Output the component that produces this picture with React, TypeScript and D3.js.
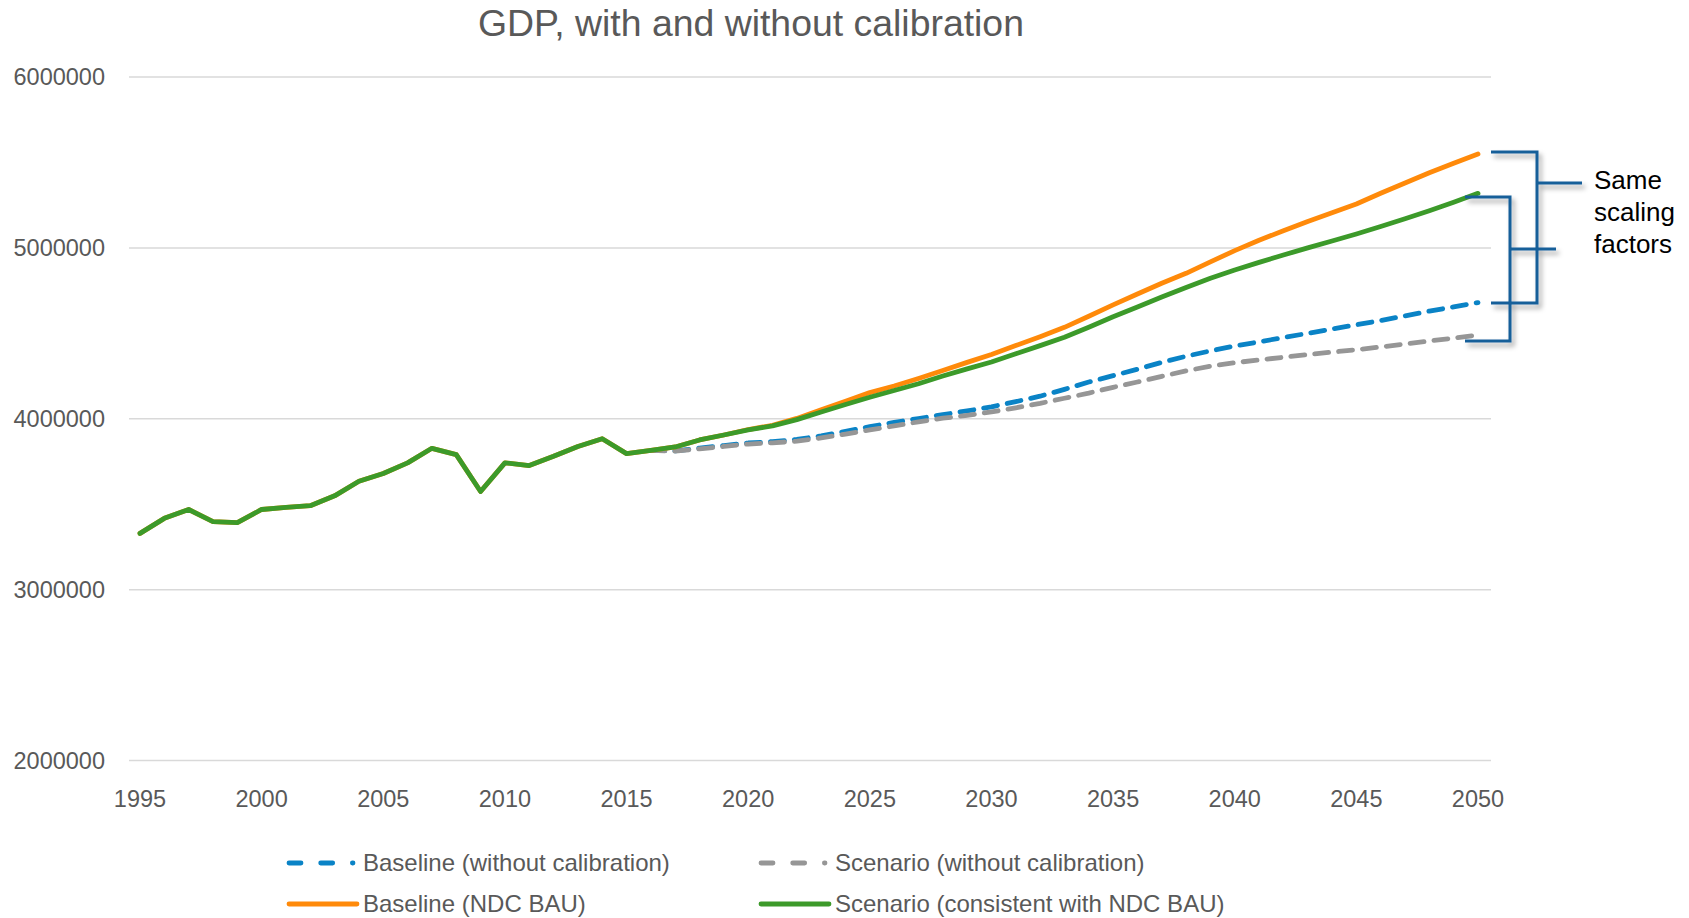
import React from "react";
import * as d3 from "d3";

const W = 1689;
const H = 918;

const title = "GDP, with and without calibration";
const yTicks = [2000000, 3000000, 4000000, 5000000, 6000000];
const xTickYears = [1995, 2000, 2005, 2010, 2015, 2020, 2025, 2030, 2035, 2040, 2045, 2050];

// Shared history 1995-2017
const historyYears = [1995, 1996, 1997, 1998, 1999, 2000, 2001, 2002, 2003, 2004, 2005, 2006, 2007, 2008, 2009, 2010, 2011, 2012, 2013, 2014, 2015, 2016, 2017];
const history = [3329000, 3417000, 3469000, 3398000, 3392000, 3469000, 3481000, 3491000, 3549000, 3634000, 3680000, 3742000, 3827000, 3790000, 3574000, 3742000, 3726000, 3780000, 3838000, 3883000, 3796000, 3815000, 3835000];

// Projection years
const projYears = [2018, 2019, 2020, 2021, 2022, 2023, 2024, 2025, 2026, 2027, 2028, 2029, 2030, 2031, 2032, 2033, 2034, 2035, 2036, 2037, 2038, 2039, 2040, 2041, 2042, 2043, 2044, 2045, 2046, 2047, 2048, 2049, 2050];
const baselineNdc = [3876000, 3905000, 3937000, 3962000, 4002000, 4052000, 4102000, 4153000, 4192000, 4236000, 4282000, 4330000, 4376000, 4428000, 4480000, 4535000, 4600000, 4666000, 4730000, 4793000, 4851000, 4918000, 4984000, 5045000, 5100000, 5155000, 5206000, 5257000, 5320000, 5380000, 5440000, 5495000, 5549000];
const scenarioNdc = [3876000, 3905000, 3935000, 3958000, 3995000, 4040000, 4083000, 4126000, 4165000, 4205000, 4250000, 4292000, 4332000, 4380000, 4428000, 4477000, 4536000, 4597000, 4654000, 4712000, 4768000, 4822000, 4871000, 4915000, 4958000, 5000000, 5040000, 5081000, 5125000, 5170000, 5217000, 5267000, 5319000];

// Uncalibrated series 2016-2050
const uncalYears = [2016, 2017, 2018, 2019, 2020, 2021, 2022, 2023, 2024, 2025, 2026, 2027, 2028, 2029, 2030, 2031, 2032, 2033, 2034, 2035, 2036, 2037, 2038, 2039, 2040, 2041, 2042, 2043, 2044, 2045, 2046, 2047, 2048, 2049, 2050];
const baselineUncal = [3815000, 3812000, 3828000, 3843000, 3858000, 3866000, 3879000, 3900000, 3926000, 3954000, 3979000, 4001000, 4024000, 4046000, 4070000, 4100000, 4132000, 4172000, 4215000, 4252000, 4290000, 4330000, 4366000, 4397000, 4426000, 4450000, 4475000, 4500000, 4525000, 4550000, 4575000, 4602000, 4630000, 4655000, 4680000];
const scenarioUncal = [3815000, 3810000, 3824000, 3838000, 3852000, 3859000, 3869000, 3888000, 3910000, 3935000, 3958000, 3982000, 4003000, 4020000, 4040000, 4064000, 4090000, 4120000, 4150000, 4184000, 4215000, 4248000, 4280000, 4308000, 4328000, 4344000, 4360000, 4375000, 4390000, 4404000, 4420000, 4437000, 4455000, 4472000, 4490000];

const seriesNames = [
  "Baseline (without calibration)",
  "Scenario (without calibration)",
  "Baseline (NDC BAU)",
  "Scenario (consistent with NDC BAU)",
];
const seriesColors = ["#0a83c6", "#969696", "#ff8a0a", "#3c9a2a"];

const FONT = "'Liberation Sans', Arial, Helvetica, sans-serif";
const TEXT_GRAY = "#595959";

type Pt = [number, number];
const zip = (xs: number[], ys: number[]): Pt[] => xs.map((x, i) => [x, ys[i]] as Pt);

export default function App() {
  const x = d3.scaleLinear().domain([1995, 2050]).range([140, 1478]);
  const y = d3.scaleLinear().domain([2000000, 6000000]).range([760.5, 77]);
  const line = d3
    .line<Pt>()
    .x((d) => x(d[0]))
    .y((d) => y(d[1]));

  const histPts = zip(historyYears, history);
  const series: { pts: Pt[]; dashed: boolean }[] = [
    { pts: zip(uncalYears, baselineUncal), dashed: true },
    { pts: zip(uncalYears, scenarioUncal), dashed: true },
    { pts: histPts.concat(zip(projYears, baselineNdc)), dashed: false },
    { pts: histPts.concat(zip(projYears, scenarioNdc)), dashed: false },
  ];

  const plotLeft = 129;
  const plotRight = 1491;
  const bracketColor = "#145f99";

  const legendItems = [
    { x: 289, y: 863 },
    { x: 761, y: 863 },
    { x: 289, y: 904 },
    { x: 761, y: 904 },
  ];

  return (
    <svg
      width={W}
      height={H}
      style={{ position: "absolute", left: 0, top: 0, background: "#fff" }}
      fontFamily={FONT}
    >
      <defs>
        <filter id="shadow" x="-20%" y="-20%" width="140%" height="140%">
          <feDropShadow dx="3" dy="4" stdDeviation="2.5" floodColor="#000" floodOpacity="0.35" />
        </filter>
      </defs>
      <rect width={W} height={H} fill="#fff" />
      <text x={751} y={36} textAnchor="middle" fontSize={37.4} fill={TEXT_GRAY}>
        {title}
      </text>

      {yTicks.map((t) => (
        <g key={t}>
          <line x1={plotLeft} x2={plotRight} y1={y(t)} y2={y(t)} stroke="#d9d9d9" strokeWidth={1.5} />
          <text x={105} y={y(t)} dy="0.35em" textAnchor="end" fontSize={23.5} fill={TEXT_GRAY}>
            {t}
          </text>
        </g>
      ))}

      {xTickYears.map((yr) => (
        <text key={yr} x={x(yr)} y={807} textAnchor="middle" fontSize={23.5} fill={TEXT_GRAY}>
          {yr}
        </text>
      ))}

      {series.map((s, i) => (
        <path
          key={i}
          d={line(s.pts) || ""}
          fill="none"
          stroke={seriesColors[i]}
          strokeWidth={4.8}
          strokeLinecap="round"
          strokeLinejoin="round"
          strokeDasharray={s.dashed ? "14 10" : undefined}
        />
      ))}

      {/* Brackets annotation */}
      <g filter="url(#shadow)" stroke={bracketColor} strokeWidth={3} fill="none">
        <path d="M1491,152 H1537 V303 H1491" />
        <path d="M1537,183 H1582" />
        <path d="M1465,197 H1510 V341 H1465" />
        <path d="M1510,249 H1556" />
      </g>
      <g fontSize={26} fill="#000">
        <text x={1594} y={189}>Same</text>
        <text x={1594} y={221}>scaling</text>
        <text x={1594} y={253}>factors</text>
      </g>

      {/* Legend */}
      {legendItems.map((it, i) => (
        <g key={i}>
          <line
            x1={it.x}
            x2={it.x + (i < 2 ? 64 : 68)}
            y1={it.y}
            y2={it.y}
            stroke={seriesColors[i]}
            strokeWidth={4.8}
            strokeLinecap="round"
            strokeDasharray={i < 2 ? "12 19.7" : undefined}
          />
          <text x={it.x + 74} y={it.y} dy="0.35em" fontSize={24} fill={TEXT_GRAY}>
            {seriesNames[i]}
          </text>
        </g>
      ))}
    </svg>
  );
}
